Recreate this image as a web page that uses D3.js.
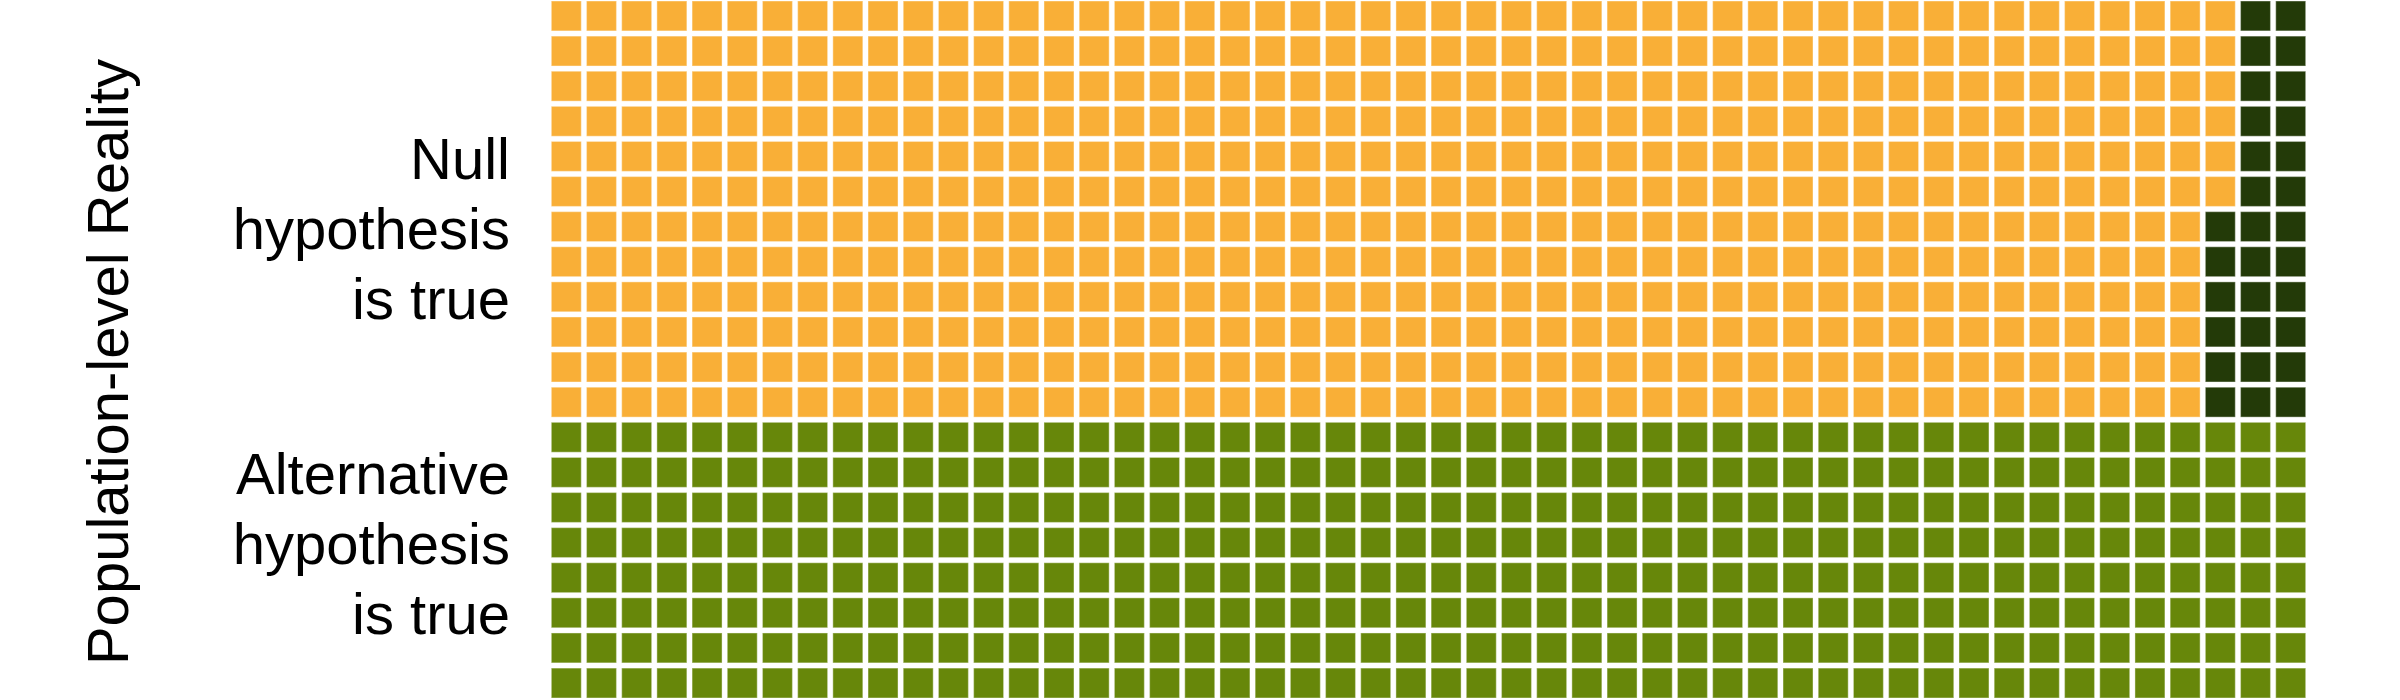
<!DOCTYPE html>
<html>
<head>
<meta charset="utf-8">
<script src="https://cdn.jsdelivr.net/npm/d3@7"></script>
<style>
html,body{margin:0;padding:0;background:#fff;}
svg{display:block;}
text{font-family:"Liberation Sans",Arial,sans-serif;fill:#000;}
</style>
</head>
<body>
<svg id="chart" width="2400" height="700"></svg>
<script>
// ---- data ----
const realities = ["Null hypothesis is true", "Alternative hypothesis is true"];
const realityLabels = [["Null", "hypothesis", "is true"], ["Alternative", "hypothesis", "is true"]];
const realityRows = [12, 8];            // rows of squares per reality
const nColumns = 50;                     // squares per row
const outcomes = ["Not rejected (null)", "Rejected (null)", "Alternative"];
const outcomeCounts = [[570, 30, 0], [0, 0, 400]]; // per reality
const outcomeColors = ["#F9AF37", "#233A08", "#67870A"];
const yTitle = "Population-level Reality";

// ---- build cells ----
const totalRows = d3.sum(realityRows);
const cells = [];
let rowOffset = 0;
realities.forEach((r, ri) => {
  const nr = realityRows[ri];
  const counts = outcomeCounts[ri];
  const order = [];
  for (let c = nColumns - 1; c >= 0; c--) for (let rr = nr - 1; rr >= 0; rr--) order.push([c, rr]);
  const seq = [];
  [1, 0, 2].forEach(oi => { for (let i = 0; i < counts[oi]; i++) seq.push(oi); });
  order.forEach((pos, i) => {
    cells.push({col: pos[0], row: rowOffset + pos[1], outcome: seq[i], reality: ri});
  });
  rowOffset += nr;
});

// ---- scales ----
const svg = d3.select("#chart");
const x = d3.scaleBand().domain(d3.range(nColumns)).range([548.7, 2308.3]).paddingInner(0.148).paddingOuter(0.074);
const y = d3.scaleBand().domain(d3.range(totalRows)).range([-1.6, 700.6]).paddingInner(0.148).paddingOuter(0.074);
const color = d3.scaleOrdinal().domain(d3.range(outcomes.length)).range(outcomeColors);

svg.append("g").selectAll("rect").data(cells).join("rect")
  .attr("x", d => x(d.col))
  .attr("y", d => y(d.row))
  .attr("width", x.bandwidth())
  .attr("height", y.bandwidth())
  .attr("fill", d => color(d.outcome))
  .attr("stroke", "#ffffff")
  .attr("stroke-opacity", 0.35)
  .attr("stroke-width", 1.2);

// ---- reality labels ----
const fontSize = 58;
const lineH = 70;
const labelFirstBaseline = [179, 494];
realities.forEach((r, ri) => {
  const lines = realityLabels[ri];
  const t = svg.append("text")
    .attr("text-anchor", "end")
    .attr("font-size", fontSize)
    .attr("x", 510)
    .attr("y", labelFirstBaseline[ri]);
  lines.forEach((l, i) => {
    t.append("tspan").attr("x", 510).attr("dy", i === 0 ? 0 : lineH).text(l);
  });
});

// ---- y title ----
svg.append("text")
  .attr("transform", "translate(128," + 362 + ") rotate(-90)")
  .attr("text-anchor", "middle")
  .attr("font-size", fontSize)
  .text(yTitle);
</script>
</body>
</html>
